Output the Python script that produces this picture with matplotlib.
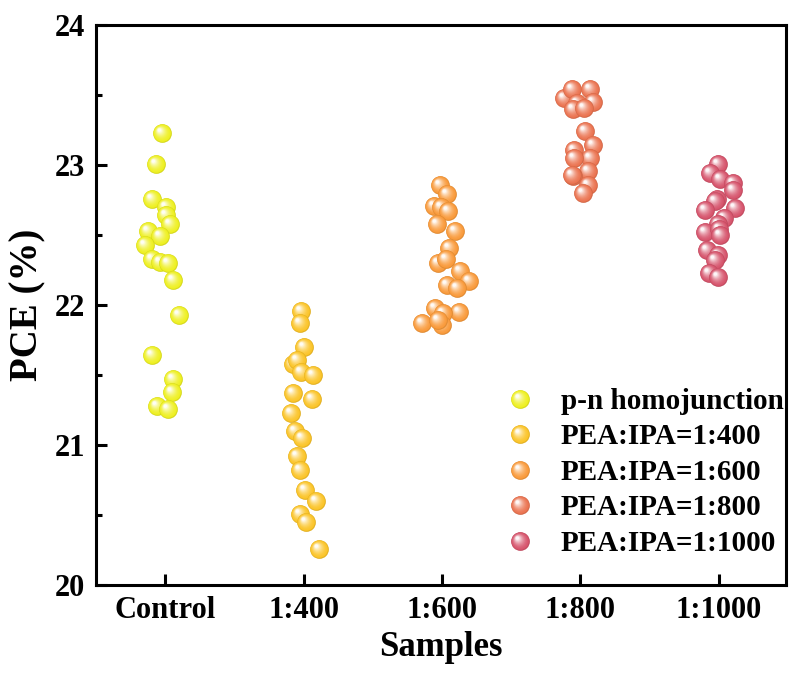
import numpy as np
import matplotlib
matplotlib.use("Agg")
import matplotlib.pyplot as plt
from matplotlib.path import Path
from matplotlib.markers import MarkerStyle
from matplotlib.lines import Line2D
from matplotlib.legend_handler import HandlerTuple
import matplotlib.colors as mcolors

# Samples on the x axis
samples = ["Control", "1:400", "1:600", "1:800", "1:1000"]
labels = ["p-n homojunction", "PEA:IPA=1:400", "PEA:IPA=1:600",
          "PEA:IPA=1:800", "PEA:IPA=1:1000"]
colors = ["#EEF020", "#FBC427", "#F99A3A", "#EB7350", "#D6536B"]

# PCE values (%)
pce_control = [23.23, 23.01, 22.76, 22.70, 22.64, 22.58, 22.53, 22.49, 22.43, 22.33,
               22.31, 22.30, 22.18, 21.93, 21.64, 21.47, 21.38, 21.28, 21.26]
pce_400 = [21.96, 21.87, 21.70, 21.58, 21.61, 21.52, 21.50, 21.37, 21.33, 21.23,
           21.10, 21.05, 20.92, 20.82, 20.68, 20.60, 20.51, 20.45, 20.26]
pce_600 = [22.86, 22.79, 22.71, 22.70, 22.67, 22.58, 22.53, 22.41, 22.30, 22.33,
           22.24, 22.17, 22.14, 22.12, 21.98, 21.95, 21.94, 21.87, 21.86, 21.89]
pce_800 = [23.48, 23.54, 23.54, 23.45, 23.44, 23.40, 23.41, 23.24, 23.14, 23.11,
           23.05, 23.05, 22.96, 22.92, 22.86, 22.80, 22.93]
pce_1000 = [23.01, 22.94, 22.90, 22.87, 22.82, 22.76, 22.74, 22.68, 22.69, 22.62,
            22.58, 22.52, 22.54, 22.50, 22.39, 22.36, 22.32, 22.23, 22.20]

# horizontal jitter of each point (in category units)
jit_control = [-0.022, -0.070, -0.094, 0.009, 0.002, 0.036, -0.128, -0.036, -0.149, -0.094,
               -0.036, 0.019, 0.053, 0.099, -0.099, 0.053, 0.048, -0.060, 0.017]
jit_400 = [-0.022, -0.027, 0.005, -0.077, -0.045, -0.017, 0.070, -0.079, 0.063, -0.094,
           -0.063, -0.009, -0.048, -0.027, 0.009, 0.092, -0.027, 0.014, 0.113]
jit_600 = [-0.014, 0.034, -0.058, -0.007, 0.041, -0.036, 0.096, 0.053, -0.031, 0.029,
           0.132, 0.197, 0.034, 0.108, -0.051, 0.125, 0.009, -0.147, 0.002, -0.029]
jit_800 = [-0.121, -0.060, 0.067, 0.092, -0.024, -0.053, 0.024, 0.031, 0.089, -0.048,
           0.072, -0.048, 0.053, -0.053, 0.053, 0.019, -0.060]
jit_1000 = [-0.005, -0.065, 0.007, 0.103, 0.099, -0.017, -0.029, -0.101, 0.116, 0.036,
            -0.005, -0.101, 0.002, 0.007, -0.089, -0.005, -0.029, -0.070, -0.005]

groups = [(pce_control, jit_control), (pce_400, jit_400), (pce_600, jit_600),
          (pce_800, jit_800), (pce_1000, jit_1000)]

plt.rcParams["font.family"] = "Liberation Serif"
plt.rcParams["font.weight"] = "bold"

# sphere look: stacked circles, shrinking towards an upper-left highlight
N_LAYERS = 12
fracs = np.linspace(0, 1, N_LAYERS)


def layer_marker(f):
    r = 1 - 0.82 * f
    circ = Path.circle((-0.33 * f, 0.36 * f), r)
    verts = np.vstack([[[-1, -1], [1, 1]], circ.vertices])
    codes = [Path.MOVETO, Path.MOVETO] + list(circ.codes)
    return MarkerStyle(Path(verts, codes))


markers = [layer_marker(f) for f in fracs]


def layer_colors(base):
    rgb = np.array(mcolors.to_rgb(base))
    out = []
    for f in fracs:
        if f == 0:
            out.append(rgb * 0.9)
        else:
            w = 0.95 * f ** 1.8
            out.append(rgb * (1 - w) + w)
    return out


MS = 13.5  # marker diameter in points

fig = plt.figure(figsize=(7.89, 6.75), dpi=100)
ax = fig.add_axes([0.1217, 0.1333, 0.8745, 0.8297])

for i, (vals, jit) in enumerate(groups):
    cols = layer_colors(colors[i])
    for v, j in zip(vals, jit):
        for m, c in zip(markers, cols):
            ax.plot(i + 1 + j, v, linestyle="none", marker=m, markersize=MS,
                    markerfacecolor=c, markeredgewidth=0, clip_on=False)

ax.set_xlim(0.5, 5.485)
ax.set_ylim(20, 24)
ax.set_xticks(range(1, 6))
ax.set_xticklabels(samples)
ax.set_yticks([20, 21, 22, 23, 24])
ax.set_yticks(np.arange(20.5, 24, 1), minor=True)

ax.tick_params(axis="both", which="major", direction="in", length=8, width=2.2,
               labelsize=22, top=False, right=False)
ax.tick_params(axis="y", which="major", pad=8)
ax.tick_params(axis="x", which="major", pad=8)
ax.tick_params(axis="y", which="minor", direction="in", length=4, width=2.2, right=False)
for sp in ax.spines.values():
    sp.set_linewidth(2.2)

ax.set_xlabel("Samples", fontsize=25, fontweight="bold", labelpad=4)
ax.set_ylabel("PCE (%)", fontsize=28, fontweight="bold", labelpad=6)

handles = []
for c in colors:
    cols = layer_colors(c)
    handles.append(tuple(Line2D([], [], linestyle="none", marker=m, markersize=MS,
                                markerfacecolor=cc, markeredgewidth=0)
                         for m, cc in zip(markers, cols)))

ax.legend(handles, labels, handler_map={tuple: HandlerTuple(ndivide=1, pad=0)},
          loc="upper left", bbox_to_anchor=(0.593, 0.352), frameon=False,
          borderpad=0, borderaxespad=0, handlelength=1.0, handletextpad=0.9,
          labelspacing=0.29, prop={"size": 21, "weight": "bold"})

plt.savefig("out.png", dpi=100)
plt.close()
